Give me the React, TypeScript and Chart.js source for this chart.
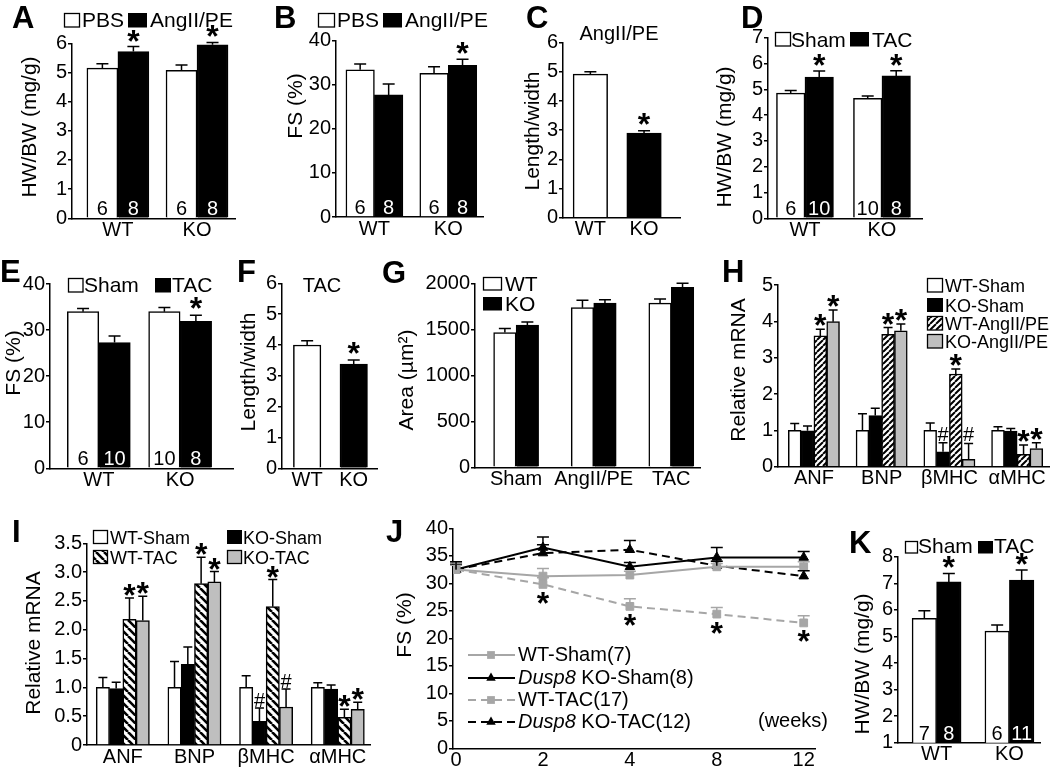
import React, { useEffect, useRef } from 'react';
import { Chart, registerables } from 'chart.js';

Chart.register(...registerables);

const FONT = "'Liberation Sans', Arial, Helvetica, sans-serif";
Chart.defaults.font.family = FONT;
Chart.defaults.color = '#000';

// ================= DATA =================
// A: HW/BW, AngII/PE
const genotypes = ['WT', 'KO'];
const aPBS = [5.15, 5.07];
const aPBSErr = [0.15, 0.19];
const aPBSN = [6, 6];
const aAngPE = [5.72, 5.95];
const aAngPEErr = [0.17, 0.08];
const aAngPEN = [8, 8];
const aAngPEMarks = ['*', '*'];

// B: FS, AngII/PE
const bPBS = [33.4, 32.6];
const bPBSErr = [1.3, 1.5];
const bPBSN = [6, 6];
const bAngPE = [27.7, 34.4];
const bAngPEErr = [2.5, 1.4];
const bAngPEN = [8, 8];
const bAngPEMarks = ['', '*'];

// C: Length/width, AngII/PE
const cRatio = [4.92, 2.9];
const cRatioErr = [0.08, 0.08];
const cMarks = ['', '*'];

// D: HW/BW, TAC
const dSham = [4.85, 4.65];
const dShamErr = [0.1, 0.09];
const dShamN = [6, 10];
const dTAC = [5.47, 5.52];
const dTACErr = [0.24, 0.2];
const dTACN = [10, 8];
const dTACMarks = ['*', '*'];

// E: FS, TAC
const eSham = [34.0, 34.0];
const eShamErr = [0.7, 0.9];
const eShamN = [6, 10];
const eTAC = [27.3, 31.9];
const eTACErr = [1.4, 1.3];
const eTACN = [10, 8];
const eTACMarks = ['', '*'];

// F: Length/width, TAC
const fRatio = [4.0, 3.38];
const fRatioErr = [0.14, 0.13];
const fMarks = ['', '*'];

// G: cell area
const gConditions = ['Sham', 'AngII/PE', 'TAC'];
const gWT = [1465, 1735, 1785];
const gWTErr = [45, 80, 45];
const gKO = [1545, 1785, 1955];
const gKOErr = [35, 35, 45];

// H: relative mRNA, AngII/PE
const genes = ['ANF', 'BNP', 'βMHC', 'αMHC'];
const hWTSham = [1.0, 1.0, 1.0, 1.0];
const hWTShamErr = [0.19, 0.46, 0.2, 0.1];
const hKOSham = [0.99, 1.41, 0.41, 0.98];
const hKOShamErr = [0.13, 0.2, 0.25, 0.07];
const hKOShamMarks = ['', '', '#', ''];
const hWTAng = [3.6, 3.64, 2.55, 0.34];
const hWTAngErr = [0.18, 0.19, 0.14, 0.26];
const hWTAngMarks = ['*', '*', '*', '*'];
const hKOAng = [3.99, 3.74, 0.2, 0.5];
const hKOAngErr = [0.32, 0.19, 0.44, 0.16];
const hKOAngMarks = ['*', '*', '#', '*'];

// I: relative mRNA, TAC
const iWTSham = [1.0, 1.0, 1.0, 1.0];
const iWTShamErr = [0.17, 0.45, 0.2, 0.08];
const iKOSham = [0.98, 1.4, 0.41, 0.97];
const iKOShamErr = [0.11, 0.3, 0.23, 0.07];
const iKOShamMarks = ['', '', '#', ''];
const iWTTAC = [2.18, 2.8, 2.4, 0.48];
const iWTTACErr = [0.37, 0.46, 0.47, 0.14];
const iWTTACMarks = ['*', '*', '*', '*'];
const iKOTAC = [2.16, 2.83, 0.66, 0.62];
const iKOTACErr = [0.42, 0.18, 0.31, 0.12];
const iKOTACMarks = ['*', '*', '#', '*'];

// J: FS time course
const weeks = ['0', '2', '4', '8', '12'];
const jWTSham = [32.5, 31.3, 31.5, 33.0, 33.0];
const jWTShamErr = [0.8, 1.4, 0.7, 0.6, 0.9];
const jKOSham = [32.5, 36.5, 33.0, 34.7, 34.7];
const jKOShamErr = [1.0, 1.9, 0.8, 1.8, 1.1];
const jWTTAC = [32.5, 29.8, 25.8, 24.4, 22.8];
const jWTTACErr = [1.2, 1.2, 1.4, 1.2, 1.3];
const jWTTACMarks = ['', '*', '*', '*', '*'];
const jKOTAC = [32.5, 35.5, 36.1, 33.2, 31.3];
const jKOTACErr = [1.4, 1.5, 1.7, 0.8, 1.0];
const jLegendLabels = [
  ['', 'WT-Sham(7)'],
  ['Dusp8', ' KO-Sham(8)'],
  ['', 'WT-TAC(17)'],
  ['Dusp8', ' KO-TAC(12)'],
];

// K: HW/BW, TAC
const kSham = [5.68, 5.2];
const kShamErr = [0.29, 0.23];
const kShamN = [7, 6];
const kTAC = [7.05, 7.12];
const kTACErr = [0.32, 0.38];
const kTACN = [8, 11];
const kTACMarks = ['*', '*'];

// ================= STYLE HELPERS =================
type Fill = 'white' | 'black' | 'gray' | 'hatchF' | 'hatchB';

let patF: any = null;
let patB: any = null;

function makeHatch(dir: number, size: number, lw: number) {
  const c = document.createElement('canvas');
  c.width = size;
  c.height = size;
  const g = c.getContext('2d') as CanvasRenderingContext2D;
  g.fillStyle = '#fff';
  g.fillRect(0, 0, size, size);
  g.strokeStyle = '#000';
  g.lineWidth = lw;
  g.beginPath();
  for (let k = -1; k <= 1; k++) {
    const o = k * size;
    if (dir > 0) {
      g.moveTo(o, size);
      g.lineTo(o + size, 0);
    } else {
      g.moveTo(o, 0);
      g.lineTo(o + size, size);
    }
  }
  g.stroke();
  return g.createPattern(c, 'repeat');
}

function fillStyle(f: Fill): any {
  switch (f) {
    case 'white':
      return '#ffffff';
    case 'black':
      return '#000000';
    case 'gray':
      return '#bfbfbf';
    case 'hatchF':
      if (!patF) patF = makeHatch(1, 6, 2);
      return patF;
    case 'hatchB':
      if (!patB) patB = makeHatch(-1, 8, 2.6);
      return patB;
  }
  return '#fff';
}

interface BarSeries {
  label: string;
  values: number[];
  errors: number[];
  fill: Fill | Fill[];
  marks?: string[];
  n?: number[];
}

interface LegendItem {
  fill: Fill;
  text: string;
  box: [number, number, number, number];
  tx: number;
  ty: number;
}

interface BarPanel {
  canvas: [number, number, number, number];
  plot: [number, number, number, number];
  categories: string[];
  xMin: number;
  xMax: number;
  yMin: number;
  yMax: number;
  yStep: number;
  yFmt?: (v: number) => string;
  barThickness: number;
  series: BarSeries[];
  capW: number;
  markGap: number;
  yTitle: string;
  yTitleAt: [number, number];
  letter: string;
  letterAt: [number, number];
  legend: LegendItem[];
  legendFont: number;
  caption?: { text: string; x: number; y: number };
}

function drawMark(ctx: CanvasRenderingContext2D, mark: string, x: number, cy: number) {
  ctx.save();
  ctx.font = mark === '*' ? `bold 32px ${FONT}` : `20px ${FONT}`;
  ctx.fillStyle = '#000';
  ctx.textAlign = 'center';
  ctx.textBaseline = 'alphabetic';
  const m = ctx.measureText(mark);
  const yb = cy + (m.actualBoundingBoxAscent - m.actualBoundingBoxDescent) / 2;
  ctx.fillText(mark, x, yb);
  ctx.restore();
}

function drawYTitle(ctx: CanvasRenderingContext2D, text: string, x: number, y: number) {
  ctx.save();
  ctx.translate(x, y);
  ctx.rotate(-Math.PI / 2);
  ctx.font = `21px ${FONT}`;
  ctx.fillStyle = '#000';
  ctx.textAlign = 'center';
  ctx.textBaseline = 'middle';
  ctx.fillText(text, 0, 0);
  ctx.restore();
}

function drawLetter(ctx: CanvasRenderingContext2D, letter: string, x: number, y: number) {
  ctx.save();
  ctx.font = `bold 31px ${FONT}`;
  ctx.fillStyle = '#000';
  ctx.textAlign = 'left';
  ctx.textBaseline = 'alphabetic';
  ctx.fillText(letter, x, y);
  ctx.restore();
}

// ================= PANELS =================
const barPanels: BarPanel[] = [
  {
    canvas: [0, 0, 250, 250],
    plot: [72, 43.3, 235, 218.3],
    categories: genotypes,
    xMin: -0.58, xMax: 1.48,
    yMin: 0, yMax: 6, yStep: 1,
    barThickness: 31,
    series: [
      { label: 'PBS', values: aPBS, errors: aPBSErr, fill: 'white', n: aPBSN },
      { label: 'AngII/PE', values: aAngPE, errors: aAngPEErr, fill: 'black', n: aAngPEN, marks: aAngPEMarks },
    ],
    capW: 12, markGap: 11,
    yTitle: 'HW/BW (mg/g)', yTitleAt: [30, 127],
    letter: 'A', letterAt: [12, 28],
    legend: [
      { fill: 'white', text: 'PBS', box: [64.5, 13.5, 15, 13.5], tx: 82, ty: 27 },
      { fill: 'black', text: 'AngII/PE', box: [128, 13, 19, 14.5], tx: 150, ty: 27 },
    ],
    legendFont: 21,
  },
  {
    canvas: [255, 0, 240, 250],
    plot: [336, 40.7, 483, 217],
    categories: genotypes,
    xMin: -0.52, xMax: 1.47,
    yMin: 0, yMax: 40, yStep: 10,
    barThickness: 28.5,
    series: [
      { label: 'PBS', values: bPBS, errors: bPBSErr, fill: 'white', n: bPBSN },
      { label: 'AngII/PE', values: bAngPE, errors: bAngPEErr, fill: 'black', n: bAngPEN, marks: bAngPEMarks },
    ],
    capW: 12, markGap: 11,
    yTitle: 'FS (%)', yTitleAt: [296, 106],
    letter: 'B', letterAt: [274, 28],
    legend: [
      { fill: 'white', text: 'PBS', box: [318.5, 13.5, 16, 13.5], tx: 337, ty: 27 },
      { fill: 'black', text: 'AngII/PE', box: [383, 13, 19, 14.5], tx: 405, ty: 27 },
    ],
    legendFont: 21,
  },
  {
    canvas: [510, 0, 180, 250],
    plot: [563, 42.7, 680, 217.7],
    categories: genotypes,
    xMin: -0.51, xMax: 1.67,
    yMin: 0, yMax: 6, yStep: 1,
    barThickness: 34.5,
    series: [
      { label: 'AngII/PE', values: cRatio, errors: cRatioErr, fill: ['white', 'black'], marks: cMarks },
    ],
    capW: 12, markGap: 12,
    yTitle: 'Length/width', yTitleAt: [533, 131],
    letter: 'C', letterAt: [526, 28],
    legend: [],
    legendFont: 21,
    caption: { text: 'AngII/PE', x: 619, y: 40 },
  },
  {
    canvas: [700, 0, 240, 250],
    plot: [768, 37.7, 922, 218.3],
    categories: genotypes,
    xMin: -0.48, xMax: 1.52,
    yMin: 0, yMax: 7, yStep: 1,
    barThickness: 28.5,
    series: [
      { label: 'Sham', values: dSham, errors: dShamErr, fill: 'white', n: dShamN },
      { label: 'TAC', values: dTAC, errors: dTACErr, fill: 'black', n: dTACN, marks: dTACMarks },
    ],
    capW: 12, markGap: 11,
    yTitle: 'HW/BW (mg/g)', yTitleAt: [725, 137],
    letter: 'D', letterAt: [741, 28],
    legend: [
      { fill: 'white', text: 'Sham', box: [775.5, 32.5, 15, 13.5], tx: 791, ty: 46.5 },
      { fill: 'black', text: 'TAC', box: [850, 32, 19, 14.5], tx: 872, ty: 46.5 },
    ],
    legendFont: 21,
  },
  {
    canvas: [0, 250, 240, 250],
    plot: [50, 284, 233, 468.3],
    categories: genotypes,
    xMin: -0.6, xMax: 1.65,
    yMin: 0, yMax: 40, yStep: 10,
    barThickness: 31.5,
    series: [
      { label: 'Sham', values: eSham, errors: eShamErr, fill: 'white', n: eShamN },
      { label: 'TAC', values: eTAC, errors: eTACErr, fill: 'black', n: eTACN, marks: eTACMarks },
    ],
    capW: 12, markGap: 12,
    yTitle: 'FS (%)', yTitleAt: [14, 363],
    letter: 'E', letterAt: [0, 282],
    legend: [
      { fill: 'white', text: 'Sham', box: [68.5, 278.5, 14.5, 13.5], tx: 84, ty: 292 },
      { fill: 'black', text: 'TAC', box: [155, 278, 16, 14.5], tx: 172, ty: 292 },
    ],
    legendFont: 21,
  },
  {
    canvas: [232, 250, 150, 250],
    plot: [282, 283.3, 377, 468.3],
    categories: genotypes,
    xMin: -0.54, xMax: 1.5,
    yMin: 0, yMax: 6, yStep: 1,
    barThickness: 27.5,
    series: [
      { label: 'TAC', values: fRatio, errors: fRatioErr, fill: ['white', 'black'], marks: fMarks },
    ],
    capW: 12, markGap: 12,
    yTitle: 'Length/width', yTitleAt: [249, 372],
    letter: 'F', letterAt: [237, 282],
    legend: [],
    legendFont: 21,
    caption: { text: 'TAC', x: 322, y: 292 },
  },
  {
    canvas: [380, 250, 330, 250],
    plot: [475, 283.3, 700, 467.3],
    categories: gConditions,
    xMin: -0.53, xMax: 2.37,
    yMin: 0, yMax: 2000, yStep: 500,
    yFmt: (v: number) => String(v),
    barThickness: 22.5,
    series: [
      { label: 'WT', values: gWT, errors: gWTErr, fill: 'white' },
      { label: 'KO', values: gKO, errors: gKOErr, fill: 'black' },
    ],
    capW: 12, markGap: 11,
    yTitle: 'Area (µm²)', yTitleAt: [407, 380],
    letter: 'G', letterAt: [382, 283],
    legend: [
      { fill: 'white', text: 'WT', box: [483.5, 277.5, 18, 12.5], tx: 505, ty: 290.5 },
      { fill: 'black', text: 'KO', box: [483, 297, 19, 13.5], tx: 505, ty: 310.5 },
    ],
    legendFont: 21,
  },
  {
    canvas: [715, 250, 335, 250],
    plot: [778, 285, 1049, 466.7],
    categories: genes,
    xMin: -0.53, xMax: 3.47,
    yMin: 0, yMax: 5, yStep: 1,
    barThickness: 12.8,
    series: [
      { label: 'WT-Sham', values: hWTSham, errors: hWTShamErr, fill: 'white' },
      { label: 'KO-Sham', values: hKOSham, errors: hKOShamErr, fill: 'black', marks: hKOShamMarks },
      { label: 'WT-AngII/PE', values: hWTAng, errors: hWTAngErr, fill: 'hatchF', marks: hWTAngMarks },
      { label: 'KO-AngII/PE', values: hKOAng, errors: hKOAngErr, fill: 'gray', marks: hKOAngMarks },
    ],
    capW: 9, markGap: 9,
    yTitle: 'Relative mRNA', yTitleAt: [739, 370],
    letter: 'H', letterAt: [722, 282],
    legend: [
      { fill: 'white', text: 'WT-Sham', box: [927.5, 278.5, 15, 13.5], tx: 945, ty: 292 },
      { fill: 'black', text: 'KO-Sham', box: [927, 298, 16, 14], tx: 945, ty: 311.5 },
      { fill: 'hatchF', text: 'WT-AngII/PE', box: [927.5, 316.5, 15, 13.5], tx: 945, ty: 330 },
      { fill: 'gray', text: 'KO-AngII/PE', box: [927.5, 334.5, 15, 13.5], tx: 945, ty: 348 },
    ],
    legendFont: 18,
  },
  {
    canvas: [0, 500, 385, 269],
    plot: [87, 543.3, 370, 745],
    categories: genes,
    xMin: -0.5, xMax: 3.45,
    yMin: 0, yMax: 3.5, yStep: 0.5,
    yFmt: (v: number) => (v === 0 ? '0' : v.toFixed(1)),
    barThickness: 13.3,
    series: [
      { label: 'WT-Sham', values: iWTSham, errors: iWTShamErr, fill: 'white' },
      { label: 'KO-Sham', values: iKOSham, errors: iKOShamErr, fill: 'black', marks: iKOShamMarks },
      { label: 'WT-TAC', values: iWTTAC, errors: iWTTACErr, fill: 'hatchB', marks: iWTTACMarks },
      { label: 'KO-TAC', values: iKOTAC, errors: iKOTACErr, fill: 'gray', marks: iKOTACMarks },
    ],
    capW: 9, markGap: 8,
    yTitle: 'Relative mRNA', yTitleAt: [34, 643],
    letter: 'I', letterAt: [12, 542],
    legend: [
      { fill: 'white', text: 'WT-Sham', box: [93.5, 530.5, 14, 13], tx: 110, ty: 543.5 },
      { fill: 'hatchB', text: 'WT-TAC', box: [93.5, 550.5, 14, 13], tx: 110, ty: 563.5 },
      { fill: 'black', text: 'KO-Sham', box: [227, 530, 15, 14], tx: 243, ty: 543.5 },
      { fill: 'gray', text: 'KO-TAC', box: [227.5, 550.5, 14, 13], tx: 243, ty: 563.5 },
    ],
    legendFont: 18,
  },
  {
    canvas: [840, 500, 210, 269],
    plot: [898, 556.7, 1040, 742.7],
    categories: genotypes,
    xMin: -0.53, xMax: 1.42,
    yMin: 1, yMax: 8, yStep: 1,
    barThickness: 24.5,
    series: [
      { label: 'Sham', values: kSham, errors: kShamErr, fill: 'white', n: kShamN },
      { label: 'TAC', values: kTAC, errors: kTACErr, fill: 'black', n: kTACN, marks: kTACMarks },
    ],
    capW: 12, markGap: 11,
    yTitle: 'HW/BW (mg/g)', yTitleAt: [863, 664],
    letter: 'K', letterAt: [849, 553],
    legend: [
      { fill: 'white', text: 'Sham', box: [905.5, 541.5, 12, 11.5], tx: 918, ty: 553 },
      { fill: 'black', text: 'TAC', box: [978, 541, 15, 12.5], tx: 994, ty: 553 },
    ],
    legendFont: 21,
  },
];

const J_CANVAS: [number, number, number, number] = [383, 500, 450, 269];
const J_PLOT: [number, number, number, number] = [453, 528.3, 815, 748.3];
const J_GRAY = '#a6a6a6';

// ================= BUILDERS =================
function fillOf(s: BarSeries, i: number): Fill {
  return Array.isArray(s.fill) ? s.fill[i] : s.fill;
}

function barDecor(p: BarPanel) {
  return {
    id: 'barDecor',
    afterDraw(chart: any) {
      const ctx: CanvasRenderingContext2D = chart.ctx;
      const ys = chart.scales.y;
      const base = chart.chartArea.bottom;
      ctx.save();
      p.series.forEach((s, di) => {
        const meta = chart.getDatasetMeta(di);
        meta.data.forEach((el: any, i: number) => {
          const x = el.x;
          const top = el.y;
          const errTop = ys.getPixelForValue(s.values[i] + s.errors[i]);
          ctx.strokeStyle = '#000';
          ctx.lineWidth = 1.5;
          ctx.beginPath();
          ctx.moveTo(x, top);
          ctx.lineTo(x, errTop);
          ctx.moveTo(x - p.capW / 2, errTop);
          ctx.lineTo(x + p.capW / 2, errTop);
          ctx.stroke();
          const mark = s.marks ? s.marks[i] : '';
          if (mark) drawMark(ctx, mark, x, errTop - p.markGap);
          if (s.n) {
            ctx.font = `20px ${FONT}`;
            ctx.fillStyle = fillOf(s, i) === 'black' ? '#fff' : '#000';
            ctx.textAlign = 'center';
            ctx.textBaseline = 'alphabetic';
            ctx.fillText(String(s.n[i]), x, base - 3);
          }
        });
      });
      ctx.translate(-p.canvas[0], -p.canvas[1]);
      drawLetter(ctx, p.letter, p.letterAt[0], p.letterAt[1]);
      drawYTitle(ctx, p.yTitle, p.yTitleAt[0], p.yTitleAt[1]);
      p.legend.forEach((it) => {
        const [bx, by, bw, bh] = it.box;
        ctx.fillStyle = fillStyle(it.fill);
        ctx.fillRect(bx, by, bw, bh);
        if (it.fill !== 'black') {
          ctx.strokeStyle = '#000';
          ctx.lineWidth = 1.3;
          ctx.strokeRect(bx, by, bw, bh);
        }
        ctx.fillStyle = '#000';
        ctx.font = `${p.legendFont}px ${FONT}`;
        ctx.textAlign = 'left';
        ctx.textBaseline = 'alphabetic';
        ctx.fillText(it.text, it.tx, it.ty);
      });
      if (p.caption) {
        ctx.font = `20px ${FONT}`;
        ctx.fillStyle = '#000';
        ctx.textAlign = 'center';
        ctx.textBaseline = 'alphabetic';
        ctx.fillText(p.caption.text, p.caption.x, p.caption.y);
      }
      ctx.restore();
    },
  };
}

function axisX(cats: string[], min: number, max: number, height: number) {
  return {
    type: 'linear',
    min,
    max,
    offset: false,
    grid: { display: false, offset: false, drawTicks: false, tickLength: 0 },
    border: { display: true, color: '#000', width: 1.5 },
    ticks: {
      font: { family: FONT, size: 20 },
      color: '#000',
      padding: 0,
      maxRotation: 0,
      autoSkip: false,
      callback: (v: any) => (cats[Math.round(v)] !== undefined ? cats[Math.round(v)] : ''),
    },
    afterBuildTicks: (s: any) => {
      s.ticks = cats.map((_, i) => ({ value: i }));
    },
    afterFit: (s: any) => {
      s.height = height;
    },
  };
}

function axisY(min: number, max: number, step: number, width: number, fmt?: (v: number) => string) {
  return {
    type: 'linear',
    min,
    max,
    beginAtZero: false,
    grid: { display: true, drawOnChartArea: false, drawTicks: true, tickLength: 4, color: '#000', lineWidth: 1.5 },
    border: { display: true, color: '#000', width: 1.5 },
    ticks: {
      stepSize: step,
      autoSkip: false,
      font: { family: FONT, size: 20 },
      color: '#000',
      padding: 1,
      callback: (v: any) => (fmt ? fmt(Number(v)) : String(v)),
    },
    afterFit: (s: any) => {
      s.width = width;
    },
  };
}

function buildBarChart(el: HTMLCanvasElement, p: BarPanel) {
  const [cx, cy, cw, ch] = p.canvas;
  const [l, t, r, b] = p.plot;
  const datasets = p.series.map((s) => ({
    label: s.label,
    data: s.values.map((v, i) => ({ x: i, y: v })),
    backgroundColor: s.values.map((_, i) => fillStyle(fillOf(s, i))),
    borderColor: '#000',
    borderWidth: 1.5,
    borderSkipped: 'bottom',
    barThickness: p.barThickness,
  }));
  return new Chart(el, {
    type: 'bar',
    data: { datasets } as any,
    options: {
      animation: false,
      responsive: false,
      maintainAspectRatio: false,
      devicePixelRatio: 1,
      events: [],
      layout: { padding: { left: 0, top: t - cy, right: cx + cw - r, bottom: 0 } },
      plugins: { legend: { display: false }, tooltip: { enabled: false }, title: { display: false } },
      scales: {
        x: axisX(p.categories, p.xMin, p.xMax, cy + ch - b),
        y: axisY(p.yMin, p.yMax, p.yStep, l - cx, p.yFmt),
      } as any,
    } as any,
    plugins: [barDecor(p)],
  });
}

function drawMarker(ctx: CanvasRenderingContext2D, style: string, x: number, y: number, r: number, color: string) {
  ctx.fillStyle = color;
  ctx.beginPath();
  if (style === 'rect') {
    const s = r * Math.SQRT1_2;
    ctx.rect(x - s, y - s, 2 * s, 2 * s);
  } else {
    const a = (2 * Math.PI) / 3;
    ctx.moveTo(x, y - r);
    ctx.lineTo(x + r * Math.sin(a), y - r * Math.cos(a));
    ctx.lineTo(x + r * Math.sin(2 * a), y - r * Math.cos(2 * a));
    ctx.closePath();
  }
  ctx.fill();
}

function buildJ(el: HTMLCanvasElement) {
  const [cx, cy, cw, ch] = J_CANVAS;
  const [l, t, r, b] = J_PLOT;
  const series = [
    { values: jWTSham, errors: jWTShamErr, color: J_GRAY, dash: [] as number[], point: 'rect', marks: null as any },
    { values: jKOSham, errors: jKOShamErr, color: '#000', dash: [] as number[], point: 'triangle', marks: null as any },
    { values: jWTTAC, errors: jWTTACErr, color: J_GRAY, dash: [8, 5], point: 'rect', marks: jWTTACMarks },
    { values: jKOTAC, errors: jKOTACErr, color: '#000', dash: [8, 5], point: 'triangle', marks: null as any },
  ];
  const datasets = series.map((s, k) => ({
    label: jLegendLabels[k].join(''),
    data: s.values.map((v, i) => ({ x: i, y: v })),
    borderColor: s.color,
    backgroundColor: s.color,
    borderWidth: 2,
    borderDash: s.dash,
    pointStyle: s.point,
    pointRadius: 5.5,
    pointBackgroundColor: s.color,
    pointBorderColor: s.color,
    pointBorderWidth: 1,
    tension: 0,
    fill: false,
  }));
  const decor = {
    id: 'jDecor',
    afterDraw(chart: any) {
      const ctx: CanvasRenderingContext2D = chart.ctx;
      const ys = chart.scales.y;
      ctx.save();
      series.forEach((s, di) => {
        const meta = chart.getDatasetMeta(di);
        meta.data.forEach((pt: any, i: number) => {
          const x = pt.x;
          const y = pt.y;
          const yt = ys.getPixelForValue(s.values[i] + s.errors[i]);
          ctx.strokeStyle = s.color;
          ctx.lineWidth = 1.5;
          ctx.setLineDash([]);
          ctx.beginPath();
          ctx.moveTo(x, y);
          ctx.lineTo(x, yt);
          ctx.moveTo(x - 6, yt);
          ctx.lineTo(x + 6, yt);
          ctx.stroke();
          if (s.marks && s.marks[i]) drawMark(ctx, s.marks[i], x, y + 13.5);
        });
      });
      ctx.translate(-cx, -cy);
      drawLetter(ctx, 'J', 386, 542);
      drawYTitle(ctx, 'FS (%)', 405, 625);
      const rows = [655, 678, 700, 722];
      series.forEach((s, k) => {
        const y = rows[k];
        ctx.strokeStyle = s.color;
        ctx.lineWidth = 2;
        ctx.setLineDash(s.dash);
        ctx.beginPath();
        ctx.moveTo(468, y);
        ctx.lineTo(515, y);
        ctx.stroke();
        ctx.setLineDash([]);
        drawMarker(ctx, s.point, 491, y, 5.5, s.color);
        const [it, rest] = jLegendLabels[k];
        ctx.fillStyle = '#000';
        ctx.textAlign = 'left';
        ctx.textBaseline = 'middle';
        let x = 518;
        if (it) {
          ctx.font = `italic 20px ${FONT}`;
          ctx.fillText(it, x, y);
          x += ctx.measureText(it).width;
        }
        ctx.font = `20px ${FONT}`;
        ctx.fillText(rest, x, y);
      });
      ctx.font = `20px ${FONT}`;
      ctx.textAlign = 'left';
      ctx.textBaseline = 'alphabetic';
      ctx.fillText('(weeks)', 758, 727);
      ctx.restore();
    },
  };
  return new Chart(el, {
    type: 'line',
    data: { datasets } as any,
    options: {
      animation: false,
      responsive: false,
      maintainAspectRatio: false,
      devicePixelRatio: 1,
      events: [],
      layout: { padding: { left: 0, top: t - cy, right: cx + cw - r, bottom: 0 } },
      plugins: { legend: { display: false }, tooltip: { enabled: false } },
      scales: {
        x: axisX(weeks, -0.035, 4.13, cy + ch - b),
        y: axisY(0, 40, 5, l - cx),
      } as any,
    } as any,
    plugins: [decor],
  });
}

// ================= COMPONENT =================
export default function App() {
  const refs = useRef<(HTMLCanvasElement | null)[]>([]);
  useEffect(() => {
    const charts: Chart[] = [];
    barPanels.forEach((p, i) => {
      const el = refs.current[i];
      if (el) charts.push(buildBarChart(el, p));
    });
    const jel = refs.current[barPanels.length];
    if (jel) charts.push(buildJ(jel));
    return () => charts.forEach((c) => c.destroy());
  }, []);
  const rects = [...barPanels.map((p) => p.canvas), J_CANVAS];
  return (
    <div
      style={{
        position: 'absolute',
        left: 0,
        top: 0,
        width: 1050,
        height: 769,
        background: '#fff',
        overflow: 'hidden',
      }}
    >
      {rects.map((c, i) => (
        <canvas
          key={i}
          ref={(el) => {
            refs.current[i] = el;
          }}
          width={c[2]}
          height={c[3]}
          style={{ position: 'absolute', left: c[0], top: c[1], width: c[2], height: c[3] }}
        />
      ))}
    </div>
  );
}
